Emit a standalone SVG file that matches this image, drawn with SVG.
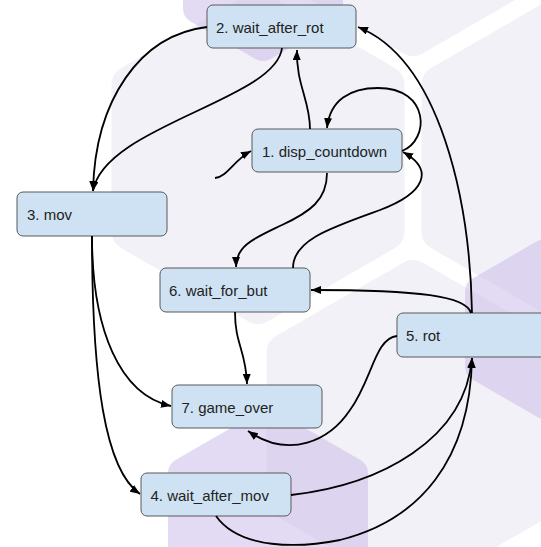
<svg xmlns="http://www.w3.org/2000/svg" xmlns:xlink="http://www.w3.org/1999/xlink" width="541" height="547" viewBox="0 0 541 547">
  <style>
    .hexg { fill: #e7e5f1; stroke: #e7e5f1; stroke-width: 40; stroke-linejoin: round; }
    .hexl { fill: #c9b9ea; stroke: #c9b9ea; stroke-width: 30; stroke-linejoin: round; }
    .node rect { fill: #cfe2f3; stroke: #595959; stroke-width: 1; }
    .node text { font-family: "Liberation Sans", Arial, sans-serif; font-size: 15px; fill: #222222; }
    .edge { fill: none; stroke: #000000; stroke-width: 1.8; marker-end: url(#ah); }
    .edge.nohead { marker-end: none; }
  </style>
  <defs>
    <marker id="ah" viewBox="0 0 10 8" refX="10" refY="4" markerWidth="10" markerHeight="8" markerUnits="userSpaceOnUse" orient="auto">
      <path d="M0,0 L10,4 L0,8 z" fill="#000000"/>
    </marker>
    <polygon id="hg" points="0,-146 126.5,-73 126.5,73 0,146 -126.5,73 -126.5,-73"/>
    <polygon id="hl" points="0,-75 65,-37.5 65,37.5 0,75 -65,37.5 -65,-37.5"/>
    <polygon id="hb" points="0,-98 85,-49 85,49 0,98 -85,49 -85,-49"/>
  </defs>
  <rect x="0" y="0" width="541" height="547" fill="#ffffff"/>
  <g id="background">
    <use xlink:href="#hg" href="#hg" class="hexg" x="258" y="158" opacity="0.5"/>
    <use xlink:href="#hg" href="#hg" class="hexg" x="568" y="158" opacity="0.5"/>
    <use xlink:href="#hg" href="#hg" class="hexg" x="413" y="426" opacity="0.5"/>
    <use xlink:href="#hg" href="#hg" class="hexg" x="413" y="-110" opacity="0.5"/>
    <use xlink:href="#hl" href="#hl" class="hexl" x="263" y="-29" opacity="0.5"/>
    <use xlink:href="#hl" href="#hl" class="hexl" x="545" y="329" opacity="0.5"/>
    <use xlink:href="#hb" href="#hb" class="hexl" x="268" y="522" opacity="0.5"/>
  </g>
  <g id="nodes">
    <g id="n2" class="node"><rect x="207" y="5" width="149" height="43" rx="6"/><text x="216" y="32.5">2. wait_after_rot</text></g>
    <g id="n1" class="node"><rect x="252" y="129" width="150" height="43" rx="6"/><text x="262" y="156.5">1. disp_countdown</text></g>
    <g id="n3" class="node"><rect x="17" y="192" width="150" height="44" rx="6"/><text x="27" y="220">3. mov</text></g>
    <g id="n6" class="node"><rect x="160" y="268" width="150" height="44" rx="6"/><text x="169" y="296">6. wait_for_but</text></g>
    <g id="n5" class="node"><rect x="397" y="313" width="150" height="44" rx="6"/><text x="406" y="341">5. rot</text></g>
    <g id="n7" class="node"><rect x="172" y="385" width="150" height="43" rx="6"/><text x="181.5" y="412.5">7. game_over</text></g>
    <g id="n4" class="node"><rect x="141" y="473" width="150" height="43" rx="6"/><text x="150.5" y="500.5">4. wait_after_mov</text></g>
  </g>
  <g id="connectors">
    <path class="edge" d="M215,178 C227,177 234,160 251,151"/>
    <path class="edge" d="M310,129 C310,100 296,85 297,50"/>
    <path class="edge" d="M282,48 C276,100 104,126 93,191"/>
    <path class="edge" d="M207,27 C140,35 95,100 93,191"/>
    <path class="edge" d="M402,151 C430,140 430,88 378,88 C350,88 330,100 327,128"/>
    <path class="edge" d="M293,268 C293,240 330,228 380,210 C425,193 435,170 403,152"/>
    <path class="edge" d="M327,173 C327,200 310,212 282,225 C255,238 236,245 236,267"/>
    <path class="edge" d="M235,312 C235,345 246,350 247,384"/>
    <path class="edge" d="M471,313 C466,296 420,290 311,290"/>
    <path class="edge" d="M472,313 C470,200 440,60 358,27"/>
    <path class="edge" d="M92,236 C92,330 120,395 171,406"/>
    <path class="edge" d="M92,236 C92,380 105,470 140,494"/>
    <path class="edge" d="M397,336 C375,338 372,380 350,410 C330,440 290,460 248,431"/>
    <path class="edge" d="M291,495 C380,485 465,440 472,358"/>
    <path class="edge" d="M216,516 C240,550 300,548 340,540 C420,520 470,460 472,358"/>
  </g>
</svg>
